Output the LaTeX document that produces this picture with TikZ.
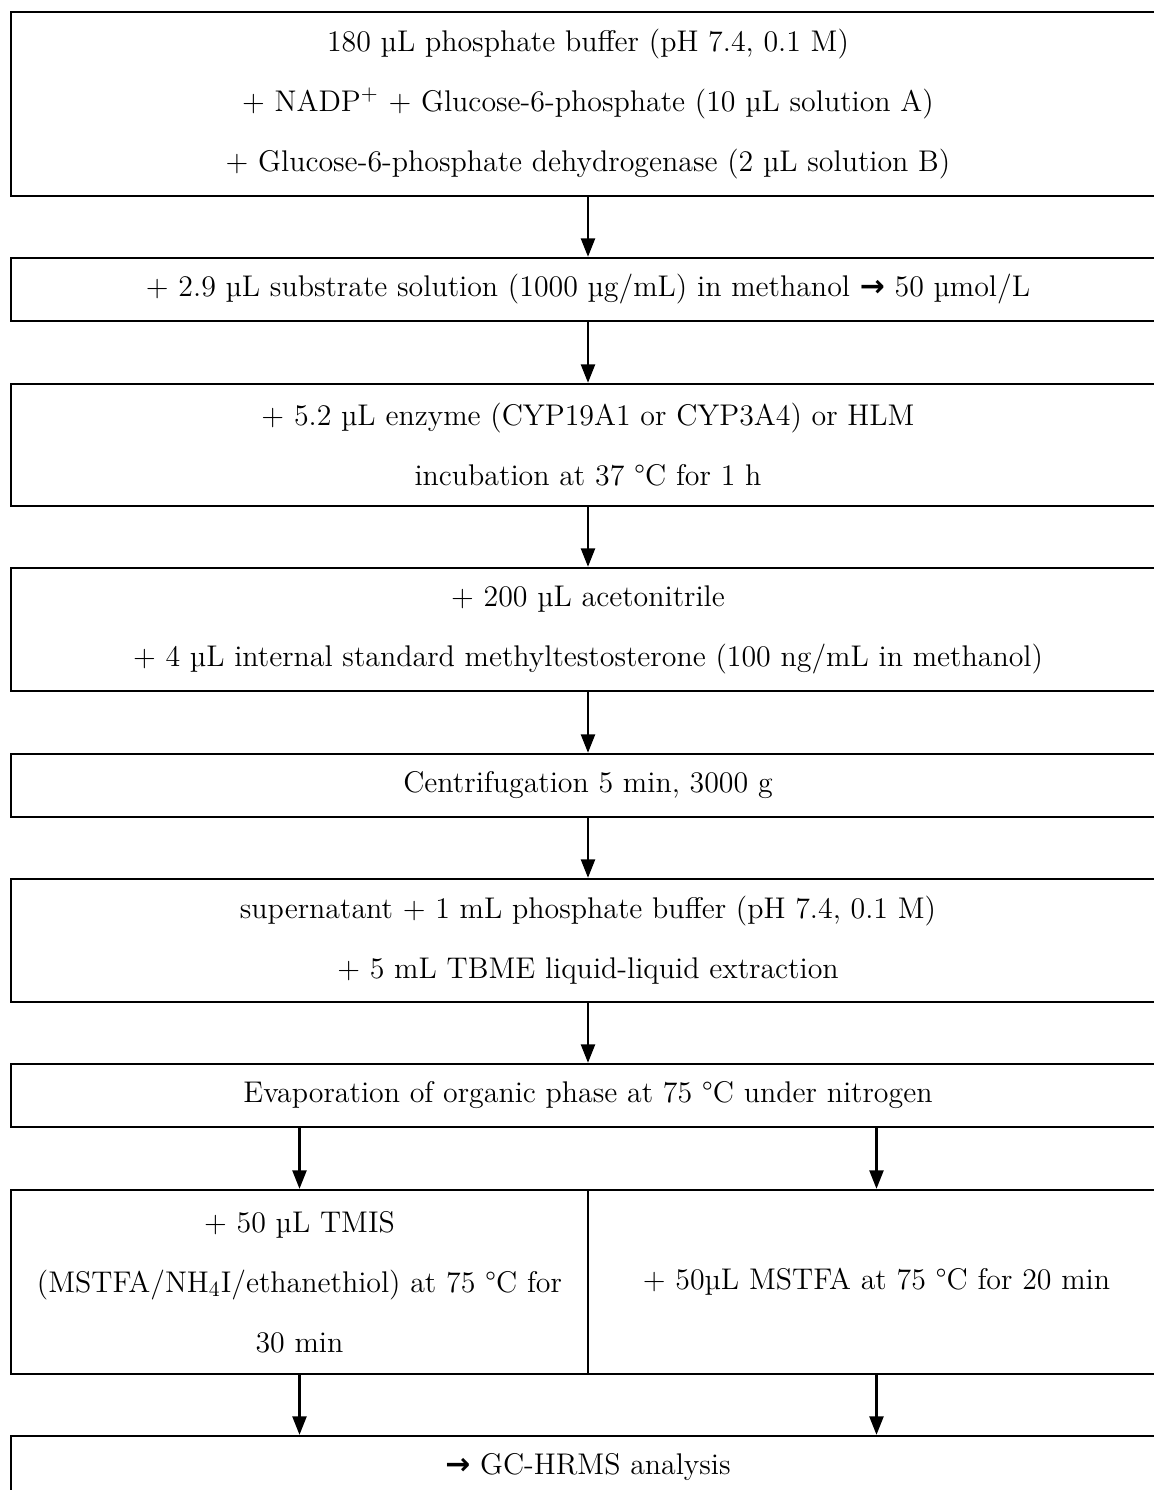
\documentclass[tikz,border=0pt]{standalone}
\usepackage{fontspec}
\usetikzlibrary{arrows.meta}
\newfontfamily\arrowfont{DejaVu Sans}
\newcommand{\pxl}{0.4615pt}
\newcommand{\yields}{{\arrowfont\bfseries →}}

\begin{document}
\begin{tikzpicture}[x=\pxl,y=-\pxl,
    stepbox/.style={draw,line width=1.15pt,inner sep=0pt,align=center,
      minimum width=1154*\pxl,font=\fontsize{13.8}{27.7}\selectfont},
    halfbox/.style={stepbox,minimum width=577*\pxl},
    flow/.style={line width=1pt,-{Triangle[length=8.5pt,width=6.5pt]}}]
  \clip (0,0) rectangle (1154,1490);
  %\draw[help lines,step=100] (0,0) grid (1154,1490);

  \node[stepbox,minimum height=184*\pxl] (buffer) at (588,104)
    {180 µL phosphate buffer (pH 7.4, 0.1 M)\\
     + NADP$^+$ + Glucose-6-phosphate (10 µL solution A)\\
     + Glucose-6-phosphate dehydrogenase (2 µL solution B)};
  \node[stepbox,minimum height=63*\pxl] (substrate) at (588,289.5)
    {+ 2.9 µL substrate solution (1000 µg/mL) in methanol \yields{} 50 µmol/L};
  \node[stepbox,minimum height=122*\pxl] (enzyme) at (588,445)
    {+ 5.2 µL enzyme (CYP19A1 or CYP3A4) or HLM\\
     incubation at 37 °C for 1 h};
  \node[stepbox,minimum height=123*\pxl] (quench) at (588,629.5)
    {+ 200 µL acetonitrile\\
     + 4 µL internal standard methyltestosterone (100 ng/mL in methanol)};
  \node[stepbox,minimum height=63*\pxl] (centri) at (588,785.5)
    {Centrifugation 5 min, 3000 g};
  \node[stepbox,minimum height=123*\pxl] (extract) at (588,940.5)
    {supernatant + 1 mL phosphate buffer (pH 7.4, 0.1 M)\\
     + 5 mL TBME liquid-liquid extraction};
  \node[stepbox,minimum height=63*\pxl] (evap) at (588,1095.5)
    {Evaporation of organic phase at 75 °C under nitrogen};

  % derivatisation, two ways
  \node[halfbox,minimum height=184*\pxl] (tmis) at (299.5,1282)
    {+ 50 µL TMIS\\
     (MSTFA/NH$_4$I/ethanethiol) at 75 °C for\\
     30 min};
  \node[halfbox,minimum height=184*\pxl] (mstfa) at (876.5,1282)
    {+ 50µL MSTFA at 75 °C for 20 min};

  \node[stepbox,minimum height=63*\pxl] (gcms) at (588,1467.5)
    {\yields{} GC-HRMS analysis};

  \foreach \From/\To in {buffer/substrate,substrate/enzyme,enzyme/quench,
      quench/centri,centri/extract,extract/evap}
    \draw[flow] (\From.south) -- (\To.north);
  \draw[flow] (tmis.north |- evap.south) -- (tmis.north);
  \draw[flow] (mstfa.north |- evap.south) -- (mstfa.north);
  \draw[flow] (tmis.south) -- (tmis.south |- gcms.north);
  \draw[flow] (mstfa.south) -- (mstfa.south |- gcms.north);
\end{tikzpicture}
\end{document}
